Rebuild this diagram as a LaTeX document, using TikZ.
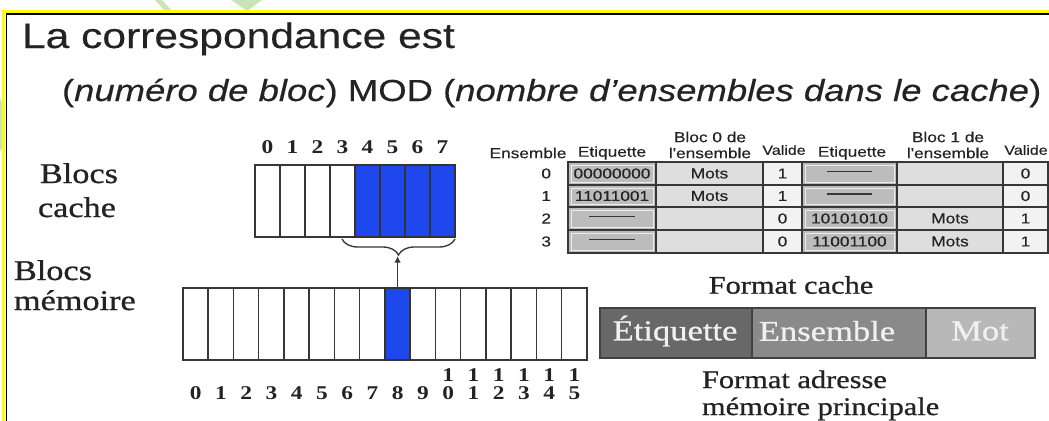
\documentclass[tikz,border=0pt]{standalone}
\usepackage{fontspec}
\setmainfont[FakeStretch=1.2]{Liberation Serif}
\newfontfamily\heavyserif[FakeStretch=1.2,FakeBold=0.8]{Liberation Serif}
\newfontfamily\arialfont[FakeStretch=1.2,FakeBold=0.3]{Liberation Sans}
\usetikzlibrary{decorations.pathreplacing,arrows.meta}
\newcommand\pxu{0.75pt}
\definecolor{blkblue}{RGB}{30,72,238}
\definecolor{framey}{RGB}{255,255,0}
\definecolor{wmgreen}{RGB}{200,228,185}
\definecolor{inkc}{RGB}{35,35,35}
\definecolor{gridc}{RGB}{55,55,55}
\definecolor{etqc}{RGB}{188,188,188}
\definecolor{blocc}{RGB}{222,222,222}
\definecolor{valc}{RGB}{242,242,242}
\definecolor{fdark}{RGB}{104,104,104}
\definecolor{fmid}{RGB}{138,138,138}
\definecolor{flight}{RGB}{184,184,184}
\definecolor{ftext}{RGB}{240,240,240}
\newcommand\celldash{\textcolor{gridc}{\rule[3pt]{34pt}{1.2pt}}}
\begin{document}
\begin{tikzpicture}[x=0.75pt,y=-0.75pt,
  every node/.style={inner sep=0pt,outer sep=0pt,text=inkc},
  cell/.style={draw=gridc,line width=1.1pt,fill=white,minimum height=72*\pxu},
  bluecell/.style={cell,fill=blkblue,draw=black!80},
  digit/.style={font=\fontsize{14.6}{15}\selectfont\bfseries},
  lbl/.style={anchor=base west,font=\heavyserif\fontsize{21.4}{24}\selectfont},
  tabtxt/.style={font=\arialfont\fontsize{10.8}{12}\selectfont},
  grid/.style={draw=gridc,line width=1.3pt},
  fmtbox/.style={draw=black!75,line width=1pt,minimum height=50*\pxu},
  fmttxt/.style={text=ftext,font=\heavyserif\fontsize{21.6}{24}\selectfont},
  fmtlbl/.style={font=\heavyserif\fontsize{19}{22}\selectfont},
  bracestyle/.style={draw=gridc,line width=1pt,decorate,
    decoration={brace,mirror,amplitude=12pt}},
  conn/.style={draw=gridc,line width=1pt,-{Latex[length=5pt,width=5pt]}}]
\useasboundingbox (0,0) rectangle (1049,421);
\fill[white] (0,0) rectangle (1049,421);

% pale watermark fragments around the frame
\fill[wmgreen] (155,0) -- (162,0) -- (172,11) -- (165,11) -- cycle;
\fill[wmgreen] (231,0) -- (262,0) -- (247,11) -- cycle;
\fill[wmgreen] (0,98) -- (4,108) -- (4,142) -- (0,152) -- cycle;

% slide frame
\draw[framey,line width=3*\pxu] (3.5,421) -- (3.5,11.5) -- (1049,11.5);
\draw[black,line width=1.1*\pxu] (6.5,421) -- (6.5,14) -- (1049,14);

% heading
\node[anchor=base west,font=\arialfont\fontsize{26.6}{30}\selectfont] (title) at (22,48) {La correspondance est};
\node[anchor=base west,font=\arialfont\fontsize{22.8}{26}\selectfont] (rule) at (62,101)
  {(\textit{numéro de bloc}) MOD (\textit{nombre d’ensembles dans le cache})};

% side labels
\node[lbl] (lbc1) at (40,183) {Blocs};
\node[lbl] (lbc2) at (38,217) {cache};
\node[lbl] (lbm1) at (14,280) {Blocs};
\node[lbl] (lbm2) at (14,310) {mémoire};

% cache lines
\foreach \i in {0,...,3}
  \node[cell,minimum width=25*\pxu] (c\i) at (267.5+25*\i,201) {};
\foreach \i in {4,...,7}
  \node[bluecell,minimum width=25*\pxu] (c\i) at (267.5+25*\i,201) {};
\foreach \i in {0,...,7}
  \node[digit] (cn\i) at (267.5+25*\i,147) {\i};

% main memory blocks
\foreach \i in {0,...,15}
  \node[cell,minimum width=25.25*\pxu] (m\i) at (195.6+25.25*\i,324) {};
\node[bluecell,minimum width=25.25*\pxu] (m8) at (195.6+25.25*8,324) {};
\foreach \i in {0,...,9}
  \node[digit] (mn\i) at (195.6+25.25*\i,393) {\i};
\foreach \i in {10,...,15}{
  \pgfmathtruncatemacro\j{\i-10}
  \node[digit] (mt\i) at (195.6+25.25*\i,375) {1};
  \node[digit] (mn\i) at (195.6+25.25*\i,393) {\j};
}

% set 0 brace and mapping arrow
\coordinate (bl) at (342,239);
\coordinate (br) at (455,239);
\coordinate (bt) at (397.6,256);
\draw[bracestyle] (bl) -- (br);
\draw[conn] (m8.north) -- (bt);

% set-associative cache table
\fill[etqc] (568,162) rectangle (656,253);
\fill[etqc] (802,162) rectangle (897,253);
\fill[blocc] (656,162) rectangle (763,253);
\fill[blocc] (897,162) rectangle (1003,253);
\fill[valc] (763,162) rectangle (802,253);
\fill[valc] (1003,162) rectangle (1048,253);
\foreach \ya/\yb in {162/185,185/207,207/230,230/253}{
  \draw[white!85!gray,line width=0.6pt] (571,\ya+3) rectangle (653,\yb-3);
  \draw[white!85!gray,line width=0.6pt] (805,\ya+3) rectangle (894,\yb-3);
}
\draw[grid] (568,162) rectangle (1048,253);
\foreach \y in {185,207,230} \draw[grid] (568,\y) -- (1048,\y);
\foreach \x in {656,763,802,897,1003} \draw[grid] (\x,162) -- (\x,253);

% table headings
\node[tabtxt] (hens) at (528,153) {Ensemble};
\node[tabtxt] (het0) at (612,153) {Etiquette};
\node[tabtxt] (hb0a) at (710,137) {Bloc 0 de};
\node[tabtxt] (hb0b) at (710,153) {l'ensemble};
\node[tabtxt,font=\arialfont\fontsize{10}{12}\selectfont] (hv0) at (784,150) {Valide};
\node[tabtxt] (het1) at (852,153) {Etiquette};
\node[tabtxt] (hb1a) at (948,137) {Bloc 1 de};
\node[tabtxt] (hb1b) at (948,153) {l'ensemble};
\node[tabtxt,font=\arialfont\fontsize{10}{12}\selectfont] (hv1) at (1026,150) {Valide};

% table rows
\foreach \r/\y in {0/173.5,1/196,2/218.5,3/241.5}
  \node[tabtxt,anchor=east] (rn\r) at (551,\y) {\r};
\node[tabtxt] (t00) at (612,173.5) {00000000};
\node[tabtxt] (t01) at (709.5,173.5) {Mots};
\node[tabtxt] (t02) at (782.5,173.5) {1};
\node[tabtxt] (t03) at (849.5,173.5) {\celldash};
\node[tabtxt] (t05) at (1025.5,173.5) {0};
\node[tabtxt] (t10) at (612,196) {11011001};
\node[tabtxt] (t11) at (709.5,196) {Mots};
\node[tabtxt] (t12) at (782.5,196) {1};
\node[tabtxt] (t13) at (849.5,196) {\celldash};
\node[tabtxt] (t15) at (1025.5,196) {0};
\node[tabtxt] (t20) at (612,218.5) {\celldash};
\node[tabtxt] (t22) at (782.5,218.5) {0};
\node[tabtxt] (t23) at (849.5,218.5) {10101010};
\node[tabtxt] (t24) at (950,218.5) {Mots};
\node[tabtxt] (t25) at (1025.5,218.5) {1};
\node[tabtxt] (t30) at (612,241.5) {\celldash};
\node[tabtxt] (t32) at (782.5,241.5) {0};
\node[tabtxt] (t33) at (849.5,241.5) {11001100};
\node[tabtxt] (t34) at (950,241.5) {Mots};
\node[tabtxt] (t35) at (1025.5,241.5) {1};

% address format
\node[fmtlbl] (fcache) at (791,285) {Format cache};
\node[fmtbox,fill=fdark,minimum width=152*\pxu] (fe) at (676,333) {};
\node[fmtbox,fill=fmid,minimum width=174*\pxu] (fs) at (839,333) {};
\node[fmtbox,fill=flight,minimum width=109*\pxu] (fm) at (980.5,333) {};
\node[fmttxt] (fet) at (675,331) {Étiquette};
\node[fmttxt] (fst) at (827,331) {Ensemble};
\node[fmttxt] (fmt) at (980,331) {Mot};
\node[fmtlbl,anchor=base west] (fadr1) at (702,388) {Format adresse};
\node[fmtlbl,anchor=base west] (fadr2) at (702,415) {mémoire principale};
\end{tikzpicture}
\end{document}
